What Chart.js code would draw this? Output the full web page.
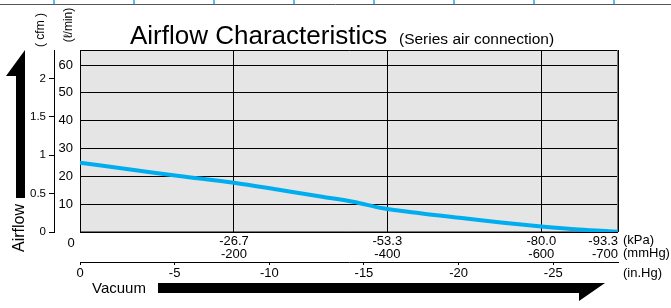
<!DOCTYPE html>
<html>
<head>
<meta charset="utf-8">
<script src="https://cdn.jsdelivr.net/npm/chart.js@4.4.0/dist/chart.umd.min.js"></script>
<style>
html, body { margin: 0; padding: 0; background: #fff; }
#wrap { width: 671px; height: 308px; position: relative; }
</style>
</head>
<body>
<div id="wrap"><canvas id="myChart"></canvas></div>
<script>
// vacuum (kPa) vs airflow (L/min)
const vacuumKPa = [0, -10, -17.2, -26.7, -35, -42, -47.6, -52.3, -59, -66.2, -73, -80, -86.5, -93.3];
const airflowLpm = [24.9, 22.1, 20.1, 17.7, 15.0, 12.7, 10.8, 8.6, 6.7, 5.0, 3.4, 2.0, 0.9, 0.1];

// tick values (ascending, so 'inner' alignment works with reverse)
const kPaTicks = [-93.3, -80.0, -53.3, -26.7, 0];
const mmHgLabels = ['-700', '-600', '-400', '-200', ''];
const inHgTicks = [-25, -20, -15, -10, -5, 0];
const lpmTicks = [0, 10, 20, 30, 40, 50, 60];
const cfmTicks = [0, 0.5, 1, 1.5, 2];

const FONT = '"Liberation Sans", Arial, Helvetica, sans-serif';

function vtext(ctx, str, x, y, size) {
    ctx.save();
    ctx.translate(x, y);
    ctx.rotate(-Math.PI / 2);
    ctx.font = size + 'px ' + FONT;
    ctx.textAlign = 'center';
    ctx.textBaseline = 'middle';
    ctx.fillText(str, 0, 0);
    ctx.restore();
}

const decor = {
    id: 'decor',
    beforeDraw(chart) {
        const { ctx, chartArea: a } = chart;
        ctx.save();
        ctx.fillStyle = '#e5e5e5';
        ctx.fillRect(a.left, a.top, a.right - a.left, a.bottom - a.top);
        ctx.restore();
    },
    beforeDatasetsDraw(chart) {
        const { ctx, chartArea: a } = chart;
        ctx.save();
        ctx.lineWidth = 1;
        ctx.strokeStyle = '#000';
        ctx.beginPath();
        ctx.moveTo(a.right, a.top + 0.5);
        ctx.lineTo(a.left + 0.5, a.top + 0.5);
        ctx.lineTo(a.left + 0.5, a.bottom);
        ctx.lineTo(a.right, a.bottom);
        ctx.stroke();
        ctx.strokeStyle = '#777';
        ctx.beginPath();
        ctx.moveTo(a.right - 0.5, a.top);
        ctx.lineTo(a.right - 0.5, a.bottom);
        ctx.stroke();
        ctx.restore();
    },
    afterDraw(chart) {
        const { ctx } = chart;
        ctx.save();

        // cut-off table edge at the very top
        ctx.strokeStyle = '#555';
        ctx.lineWidth = 1;
        ctx.beginPath();
        ctx.moveTo(0, 4.5);
        ctx.lineTo(671, 4.5);
        ctx.stroke();
        ctx.strokeStyle = '#2aa7e0';
        ctx.lineWidth = 1.5;
        for (let x = 54; x < 671; x += 80) {
            ctx.beginPath();
            ctx.moveTo(x, 0);
            ctx.lineTo(x, 4);
            ctx.stroke();
        }

        ctx.fillStyle = '#000';
        // title
        ctx.textAlign = 'left';
        ctx.textBaseline = 'alphabetic';
        ctx.font = '26px ' + FONT;
        ctx.fillText('Airflow Characteristics', 130, 44);
        ctx.font = '15.5px ' + FONT;
        ctx.fillText('(Series air connection)', 399, 44);

        // axis titles
        vtext(ctx, '( cfm )', 41, 30, 12);
        vtext(ctx, '(ℓ/min)', 69, 25, 12);
        vtext(ctx, 'Airflow', 20, 228, 16);

        // units
        ctx.font = '13px ' + FONT;
        ctx.textBaseline = 'middle';
        ctx.fillText('(kPa)', 623, 240);
        ctx.fillText('(mmHg)', 623, 253);
        ctx.fillText('(in.Hg)', 623, 273);
        ctx.textAlign = 'center';
        ctx.fillText('0', 71, 243);

        ctx.textAlign = 'left';
        ctx.font = '15px ' + FONT;
        ctx.fillText('Vacuum', 92, 289);

        // arrows
        ctx.beginPath();
        ctx.moveTo(25, 50);
        ctx.lineTo(6, 76);
        ctx.lineTo(16, 76);
        ctx.lineTo(16, 198);
        ctx.lineTo(25, 198);
        ctx.closePath();
        ctx.fill();

        ctx.beginPath();
        ctx.moveTo(158, 283);
        ctx.lineTo(605, 283);
        ctx.lineTo(579, 301);
        ctx.lineTo(579, 293);
        ctx.lineTo(158, 293);
        ctx.closePath();
        ctx.fill();

        ctx.restore();
    }
};

const tickFont = { family: FONT, size: 13, lineHeight: 1 };

new Chart(document.getElementById('myChart'), {
    type: 'line',
    data: {
        datasets: [{
            label: 'Airflow',
            data: vacuumKPa.map((v, i) => ({ x: v, y: airflowLpm[i] })),
            borderColor: '#00aeef',
            borderWidth: 4,
            pointRadius: 0,
            cubicInterpolationMode: 'monotone',
            xAxisID: 'x',
            yAxisID: 'y'
        }]
    },
    options: {
        responsive: true,
        maintainAspectRatio: false,
        animation: false,
        layout: { padding: { left: 30, right: 53, top: 50, bottom: 26 } },
        plugins: {
            legend: { display: false },
            tooltip: { enabled: false }
        },
        scales: {
            x: {
                type: 'linear',
                position: 'bottom',
                min: -93.3,
                max: 0,
                reverse: true,
                afterBuildTicks: s => { s.ticks = kPaTicks.map(v => ({ value: v })); },
                afterFit: s => { s.height = 30; },
                grid: { color: '#000', lineWidth: 1, drawTicks: false },
                border: { display: false },
                ticks: {
                    font: tickFont,
                    color: '#000',
                    padding: 3,
                    maxRotation: 0,
                    autoSkip: false,
                    align: 'inner',
                    callback: (v, i) => v === 0 ? '' : [v.toFixed(1), mmHgLabels[i]]
                }
            },
            x2: {
                type: 'linear',
                position: 'bottom',
                weight: 1,
                min: -28.42,
                max: 0,
                reverse: true,
                afterBuildTicks: s => { s.ticks = inHgTicks.map(v => ({ value: v })); },
                afterFit: s => { s.height = 20; },
                grid: { drawOnChartArea: false, color: '#000', tickLength: 3 },
                border: { display: true, color: '#000', width: 1 },
                ticks: {
                    font: tickFont,
                    color: '#000',
                    padding: 2,
                    maxRotation: 0,
                    autoSkip: false,
                    callback: v => String(v)
                }
            },
            y: {
                type: 'linear',
                position: 'left',
                min: 0,
                max: 65.4,
                afterBuildTicks: s => { s.ticks = lpmTicks.map(v => ({ value: v })); },
                afterFit: s => { s.width = 26; },
                grid: { color: '#000', lineWidth: 1, drawTicks: false },
                border: { display: false },
                ticks: {
                    font: tickFont,
                    color: '#000',
                    padding: 7,
                    callback: v => v === 0 ? '' : String(v)
                }
            },
            y2: {
                type: 'linear',
                position: 'left',
                weight: 1,
                min: 0,
                max: 2.37,
                afterBuildTicks: s => { s.ticks = cfmTicks.map(v => ({ value: v })); },
                afterFit: s => { s.width = 24; },
                grid: { drawOnChartArea: false, color: '#000', tickLength: 5 },
                border: { display: true, color: '#000', width: 1 },
                ticks: {
                    font: { family: FONT, size: 11.5 },
                    color: '#000',
                    padding: 3,
                    callback: v => String(v)
                }
            }
        }
    },
    plugins: [decor]
});
</script>
</body>
</html>
